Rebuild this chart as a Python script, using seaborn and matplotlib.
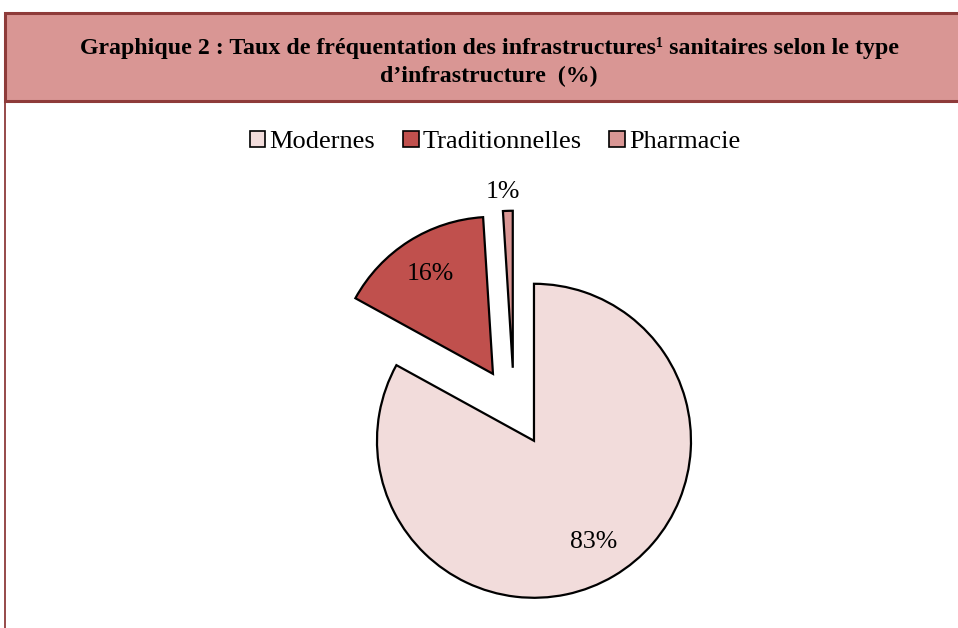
import numpy as np
import matplotlib
matplotlib.use("Agg")
import matplotlib.pyplot as plt
from matplotlib.patches import Rectangle, Patch
from matplotlib.lines import Line2D
import seaborn as sns

sns.set_theme(style="white")
plt.rcParams['font.family'] = ['Liberation Serif', 'DejaVu Serif']
plt.rcParams['text.color'] = 'black'

categories = ["Modernes", "Traditionnelles", "Pharmacie"]
values = [83, 16, 1]
colors = sns.color_palette(["#F2DCDB", "#C0504D", "#D99694"])
title_lines = "Graphique 2 : Taux de fréquentation des infrastructures\u00b9 sanitaires selon le type\nd\u2019infrastructure  (%)"

W, H = 958, 628
fig = plt.figure(figsize=(W / 100, H / 100), dpi=100)
fig.patch.set_facecolor("white")

# pie axes: 1 data unit = R px
R = 157.0
cx, cy = 514.0, 407.0
ax = fig.add_axes([0, 0, 1, 1])
ax.set_facecolor("none")
wedges, texts, autotexts = ax.pie(
    values, colors=colors, startangle=90, counterclock=False,
    explode=[0.25] * len(values), radius=1.0, center=(0, 0),
    autopct=lambda p: f"{p:.0f}%", pctdistance=0.75,
    wedgeprops=dict(edgecolor="black", linewidth=1.6),
    textprops=dict(fontsize=18.5, color="black"),
)
# move small slice label outside
for w, t, v in zip(wedges, autotexts, values):
    if v < 5:
        mid = np.deg2rad((w.theta1 + w.theta2) / 2)
        c = w.center
        t.set_position((c[0] + 1.12 * np.cos(mid) - 0.03, c[1] + 1.12 * np.sin(mid)))
ax.set_xlim(-cx / R, (W - cx) / R)
ax.set_ylim(-(H - cy) / R, cy / R)
ax.set_aspect("auto")
ax.axis("off")

# title box
border = "#8E3B3A"
fig.add_artist(Rectangle((5 / W, 1 - 101 / H), 1.05, 88 / H, transform=fig.transFigure,
                         facecolor="#D99694", edgecolor=border, linewidth=2.2, zorder=0))
fig.add_artist(Line2D([5 / W, 5 / W], [0, 1 - 101 / H], transform=fig.transFigure,
                      color=border, linewidth=1.3))
fig.text(489 / W, 1 - 62 / H, title_lines, ha="center", va="center", fontsize=17.2,
         fontweight="bold", color="black", linespacing=1.38)

# legend
handles = [Patch(facecolor=c, edgecolor="black", linewidth=1.2) for c in colors]
leg = fig.legend(handles, categories, loc="center", bbox_to_anchor=(495 / W, 1 - 142 / H),
                 ncol=3, frameon=False, fontsize=19, handlelength=0.6, handleheight=0.6,
                 handletextpad=0.15, columnspacing=1.05)
for t in leg.get_texts():
    t.set_color("black")

fig.savefig("out.png", dpi=100, facecolor="white")
